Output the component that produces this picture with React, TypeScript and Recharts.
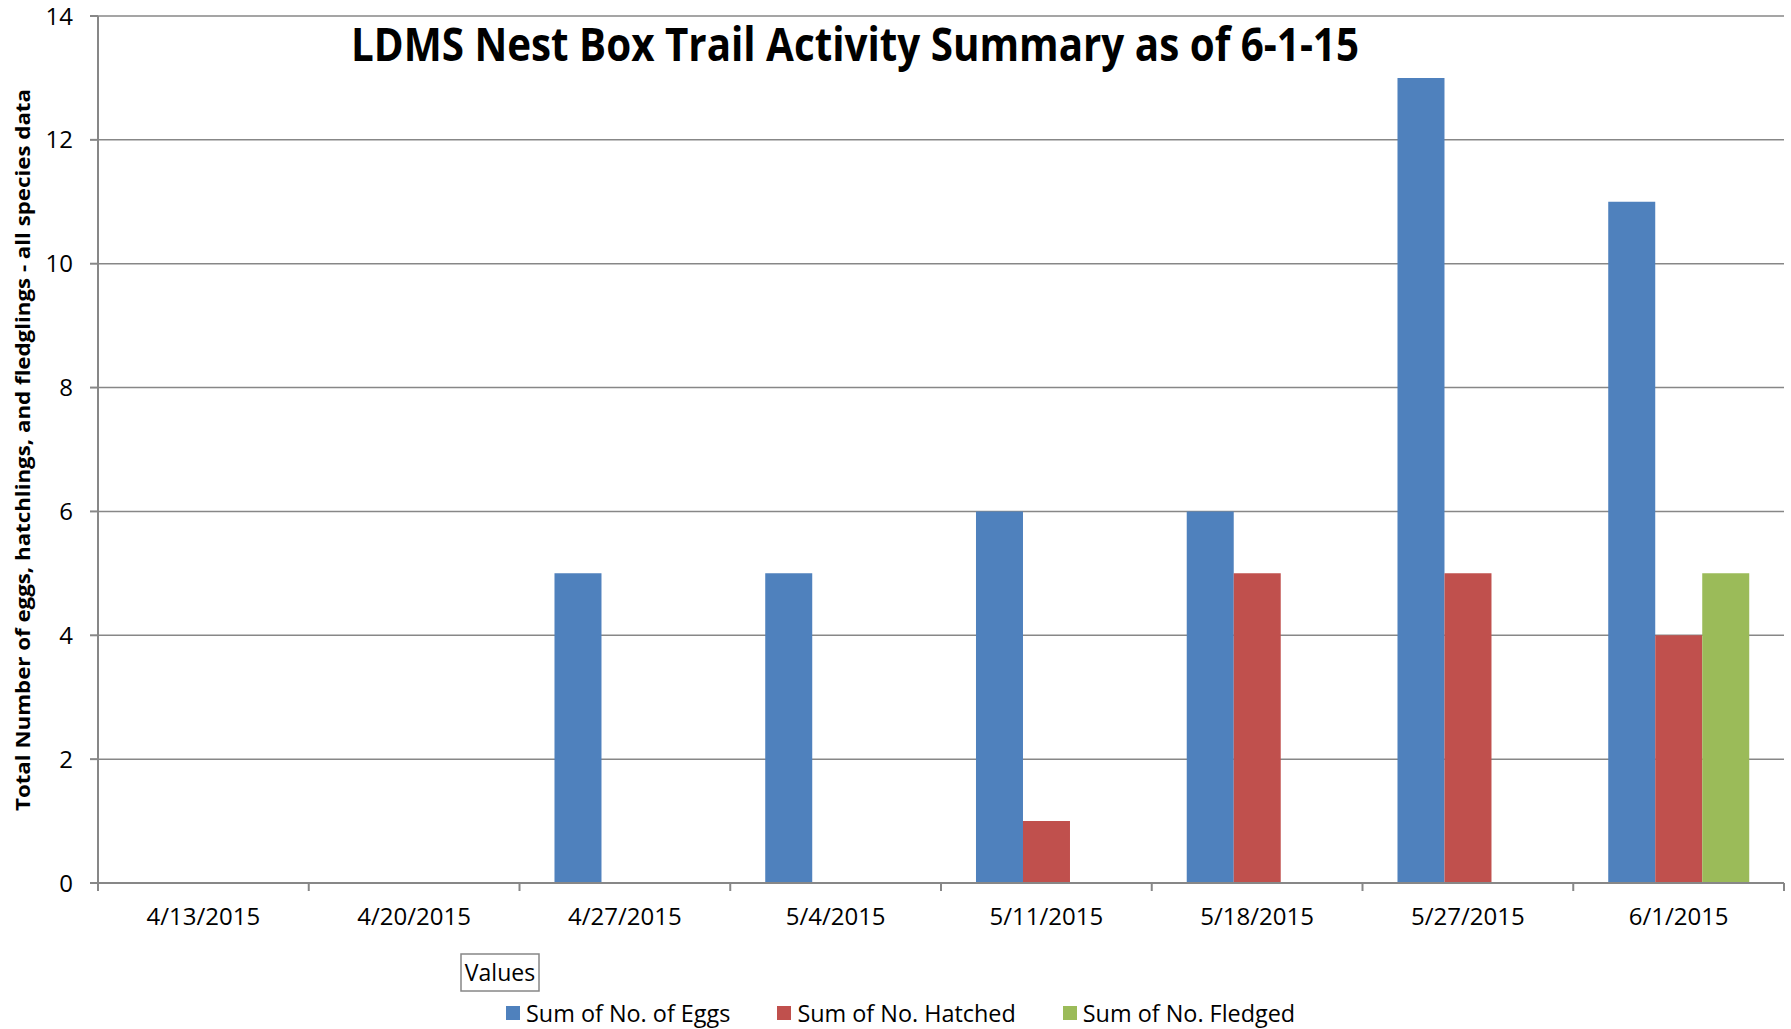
import { Bar, BarChart, CartesianGrid, XAxis, YAxis } from 'recharts'

const dates = ['4/13/2015', '4/20/2015', '4/27/2015', '5/4/2015', '5/11/2015', '5/18/2015', '5/27/2015', '6/1/2015']
const eggs = [0, 0, 5, 5, 6, 6, 13, 11]
const hatched = [0, 0, 0, 0, 1, 5, 5, 4]
const fledged = [0, 0, 0, 0, 0, 0, 0, 5]
const yTicks = [0, 2, 4, 6, 8, 10, 12, 14]

const series = [
  { key: 'eggs', name: 'Sum of No. of Eggs', fill: '#4F81BD' },
  { key: 'hatched', name: 'Sum of No. Hatched', fill: '#C0504D' },
  { key: 'fledged', name: 'Sum of No. Fledged', fill: '#9BBB59' },
]

const W = 1791
const H = 1029
const LEFT = 98
const RIGHT = 7
const BAND = (W - LEFT - RIGHT) / dates.length
const AXIS = '#878787'
const FONT = "'Open Sans', sans-serif"

const data = dates.map((d, i) => ({
  date: d,
  eggs: eggs[i],
  hatched: hatched[i],
  fledged: fledged[i],
}))

function DateTick(props: any) {
  const { x, y, payload, index } = props
  const axisY = y - 8
  const half = BAND / 2
  return (
    <g>
      <line x1={x - half} x2={x - half} y1={axisY} y2={axisY + 8} stroke={AXIS} strokeWidth={2} />
      {index === dates.length - 1 && (
        <line x1={x + half} x2={x + half} y1={axisY} y2={axisY + 8} stroke={AXIS} strokeWidth={2} />
      )}
      <text x={x} y={axisY + 34} dy="0.35em" textAnchor="middle" fontSize={24} fontFamily={FONT} fill="#000">
        {payload.value}
      </text>
    </g>
  )
}

export default function App() {
  return (
    <div style={{ position: 'relative', width: W, height: H, background: '#fff' }}>
      <style>{'body{margin:0}'}</style>
      <BarChart
        width={W}
        height={H}
        data={data}
        margin={{ top: 16, right: RIGHT, left: 0, bottom: 86 }}
        barCategoryGap="16.6%"
        barGap={0}
      >
        <CartesianGrid vertical={false} stroke={AXIS} strokeWidth={1.5} />
        <XAxis
          dataKey="date"
          height={60}
          stroke={AXIS}
          strokeWidth={2}
          tickLine={false}
          tickSize={8}
          tickMargin={0}
          tick={<DateTick />}
          interval={0}
        />
        <YAxis
          width={LEFT}
          domain={[0, 14]}
          ticks={yTicks}
          stroke={AXIS}
          strokeWidth={2}
          tickSize={8}
          tickMargin={17}
          tick={{ fill: '#000', fontSize: 24, fontFamily: FONT }}
        />
        {series.map((s) => (
          <Bar key={s.key} dataKey={s.key} name={s.name} fill={s.fill} isAnimationActive={false} />
        ))}
      </BarChart>
      <svg
        width={W}
        height={H}
        style={{ position: 'absolute', left: 0, top: 0, pointerEvents: 'none' }}
      >
        <text
          x={855}
          y={61}
          textAnchor="middle"
          fontSize={46}
          fontWeight="bold"
          fontFamily={FONT}
          textLength={1008}
          lengthAdjust="spacingAndGlyphs"
          fill="#000"
        >
          LDMS Nest Box Trail Activity Summary as of 6-1-15
        </text>
        <text
          x={23}
          y={450}
          transform="rotate(-90, 23, 450)"
          textAnchor="middle"
          dy="0.35em"
          fontSize={20}
          fontWeight="bold"
          fontFamily={FONT}
          textLength={722}
          lengthAdjust="spacingAndGlyphs"
          fill="#000"
        >
          Total Number of eggs, hatchlings, and fledglings - all species data
        </text>
        <rect x={461} y={954} width={78} height={37} fill="#fff" stroke={AXIS} strokeWidth={1.5} />
        <text x={500} y={973} dy="0.35em" textAnchor="middle" fontSize={23} fontFamily={FONT} fill="#000">
          Values
        </text>
      </svg>
      <div
        style={{
          position: 'absolute',
          top: 998,
          left: 506,
          display: 'flex',
          alignItems: 'center',
          fontFamily: FONT,
          fontSize: 23.4,
          lineHeight: '30px',
          color: '#000',
        }}
      >
        {series.map((s) => (
          <div key={s.key} style={{ display: 'flex', alignItems: 'center', marginRight: 47 }}>
            <span style={{ width: 14, height: 14, background: s.fill, marginRight: 6 }} />
            <span>{s.name}</span>
          </div>
        ))}
      </div>
    </div>
  )
}
